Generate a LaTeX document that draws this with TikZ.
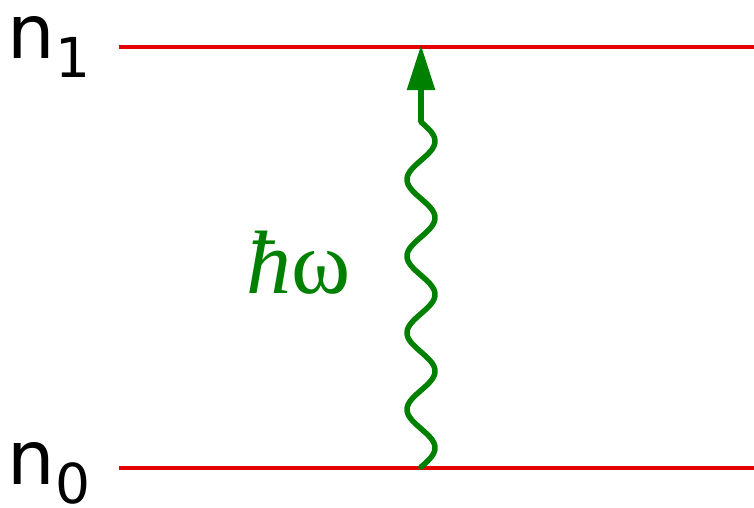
\documentclass[tikz,border=0pt]{standalone}
\usepackage{fontspec}
\setmainfont{DejaVu Sans}
\newfontfamily\serifface{Liberation Serif}
\usetikzlibrary{arrows.meta}
\begin{document}
\begin{tikzpicture}[x=1pt,y=-1pt,
  level/.style={draw=red!90!black, line width=3.5pt},
  photon/.style={draw=green!50!black, line width=5.5pt},
  lbl/.style={inner sep=0pt, outer sep=0pt, anchor=base west}]
\useasboundingbox (0,0) rectangle (754,507);
% energy levels
\coordinate (l1a) at (119,47);
\coordinate (l1b) at (754,47);
\coordinate (l0a) at (119,468);
\coordinate (l0b) at (754,468);
\draw[level] (l1a) -- (l1b);
\draw[level] (l0a) -- (l0b);
% labels
\node[lbl] (n1) at (8,58) {\fontsize{75}{75}\selectfont n\raisebox{-19pt}{\fontsize{55}{55}\selectfont 1}};
\node[lbl] (n0) at (8,484) {\fontsize{75}{75}\selectfont n\raisebox{-19pt}{\fontsize{55}{55}\selectfont 0}};
% photon
\coordinate (wstart) at (421,467);
\coordinate (wend) at (421,122);
\coordinate (tip) at (421,45);
\draw[photon, line join=round, line cap=round] plot[domain=0:1620, samples=240, smooth] ({421+14*sin(\x)}, {467-\x/360*76.67});
\draw[photon, -{Triangle[length=45pt,width=27pt]}] (wend) -- (tip);
\node[lbl, text=green!50!black] (hw) at (246,293) {\serifface\fontsize{90}{90}\selectfont\textit{ħ}ω};
\end{tikzpicture}
\end{document}
